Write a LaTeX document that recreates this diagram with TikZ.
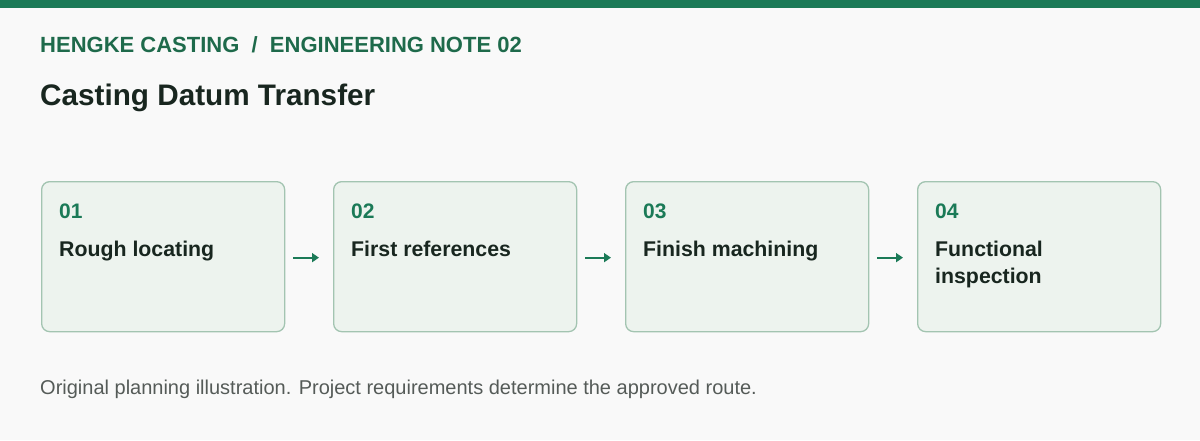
\documentclass[tikz,border=0pt]{standalone}
\usepackage{fontspec}
\setmainfont{Liberation Sans}
\usetikzlibrary{arrows.meta}
\definecolor{bg}{HTML}{F9F9F9}
\definecolor{brand}{HTML}{1B7A57}
\definecolor{head}{HTML}{1E6A4B}
\definecolor{ink}{HTML}{18261F}
\definecolor{boxfill}{HTML}{EDF3EE}
\definecolor{boxline}{HTML}{A3C4B1}
\definecolor{foot}{HTML}{555B58}
\begin{document}
\begin{tikzpicture}[x=1pt,y=-1pt,
  stepbox/.style={draw=boxline,fill=boxfill,line width=1.3pt,rounded corners=8pt,minimum width=243pt,minimum height=150pt,anchor=north west},
  num/.style={anchor=base west,text=brand,font=\fontsize{21}{24}\selectfont\bfseries,inner sep=0},
  lab/.style={anchor=north west,text=ink,font=\fontsize{21.3}{27}\selectfont\bfseries,inner sep=0,align=left},
  arr/.style={draw=brand,line width=2.2pt,-{Triangle[length=7pt,width=9pt]}}]
\useasboundingbox (0,0) rectangle (1200,440);
\fill[bg] (0,0) rectangle (1200,440);
\fill[brand] (0,0) rectangle (1200,8);
\node[anchor=base west,inner sep=0,text=head,font=\fontsize{22}{24}\selectfont\bfseries] (hdr) at (40,52) {HENGKE CASTING\ \ /\ \ ENGINEERING NOTE 02};
\node[anchor=base west,inner sep=0,text=ink,font=\fontsize{29.7}{32}\selectfont\bfseries] (title) at (40,105) {Casting Datum Transfer};
\foreach \i/\x/\n/\t in {1/41/01/Rough locating,2/333/02/First references,3/625/03/Finish machining,4/917/04/Functional\\inspection}{
  \node[stepbox] (b\i) at (\x,181) {};
  \node[num] (n\i) at (\x+18,218) {\n};
  \node[lab] (l\i) at (\x+18,241) {\t};
}
\foreach \a/\b in {1/2,2/3,3/4}{
  \coordinate (s\a) at ([xshift=8pt,yshift=-1pt]b\a.east);
  \coordinate (e\a) at ([xshift=-14pt,yshift=-1pt]b\b.west);
  \draw[arr] (s\a) -- (e\a);
}
\node[anchor=base west,inner sep=0,text=foot,font=\fontsize{20}{22}\selectfont] (ft) at (40,394) {Original planning illustration. Project requirements determine the approved route.};
\end{tikzpicture}
\end{document}
